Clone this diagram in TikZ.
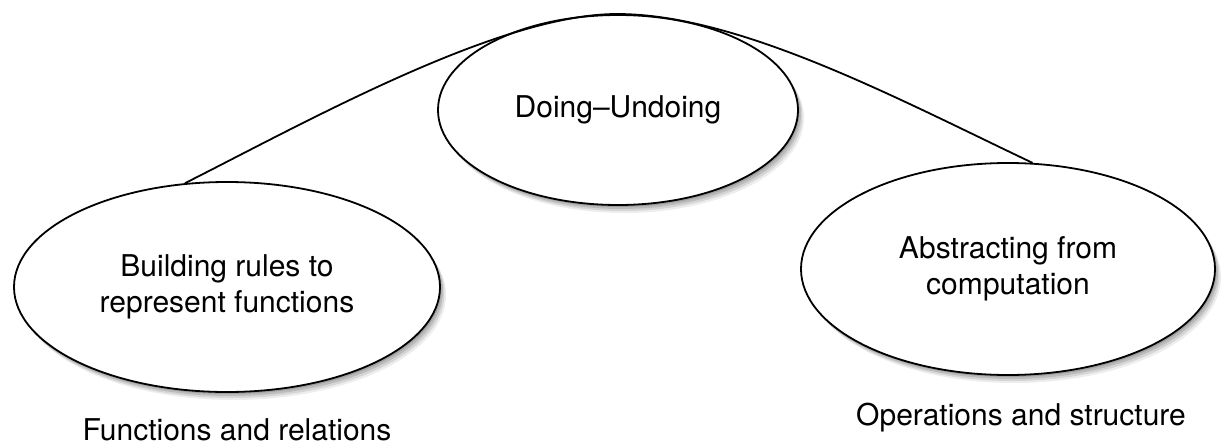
\documentclass[tikz,border=0pt]{standalone}
\usepackage{fontspec}
\setmainfont{TeX Gyre Heros}
\usetikzlibrary{shapes.geometric,shadows}
\begin{document}
\begin{tikzpicture}[x=1pt,y=-1pt,
  every node/.style={font=\fontsize{30}{36}\selectfont},
  softshadow/.style={
    general shadow={fill=black, opacity=0.14, shadow xshift=1.5pt, shadow yshift=-2pt},
    general shadow={fill=black, opacity=0.12, shadow xshift=3pt, shadow yshift=-4pt},
    general shadow={fill=black, opacity=0.10, shadow xshift=4.5pt, shadow yshift=-6pt},
    general shadow={fill=black, opacity=0.07, shadow xshift=6pt, shadow yshift=-8pt}},
  topic/.style={ellipse, draw, line width=1.8pt, fill=white, align=center, inner sep=0pt, softshadow},
  link/.style={line width=1.8pt}]
\useasboundingbox (0,0) rectangle (1222,447);
\node[topic, minimum width=360pt, minimum height=190pt] (top) at (618,110) {Doing–Undoing};
\node[topic, minimum width=426pt, minimum height=210pt] (left) at (227,287) {Building rules to\\represent functions};
\node[topic, minimum width=414pt, minimum height=212pt] (right) at (1008,269) {Abstracting from\\computation};
\node (fr) at (237,430) {Functions and relations};
\node (os) at (1021,418) {Operations and structure};
\coordinate (apex) at (617,14);
\draw[link] (left.112) .. controls (310,120) and (500,14) .. (apex)
  .. controls (740,14) and (900,100) .. (right.77);
\end{tikzpicture}
\end{document}
